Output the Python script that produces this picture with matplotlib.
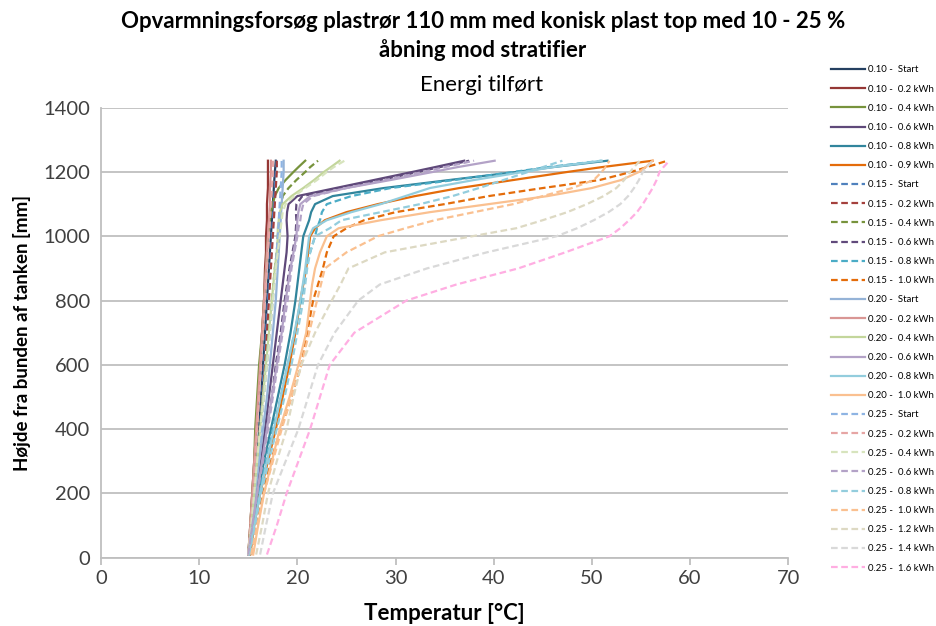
import matplotlib
matplotlib.use("Agg")
import matplotlib.pyplot as plt

plt.rcParams['font.family'] = ['Lato', 'DejaVu Sans']

# height above tank bottom [mm]
hoejde = [10, 100, 200, 300, 400, 500, 600, 700, 800, 850, 900, 950, 1000,
          1025, 1050, 1075, 1100, 1125, 1150, 1175, 1200, 1215, 1235]

# temperatures [C] per test (opening - energy)
s10_start = [15.0, 15.3, 15.6, 15.9, 16.1, 16.3, 16.5, 16.7, 16.9, 17.0, 17.1, 17.2, 17.3, 17.35, 17.4, 17.45, 17.5, 17.55, 17.6, 17.65, 17.7, 17.75, 17.8]
s10_02 = [15.0, 15.2, 15.4, 15.6, 15.8, 16.0, 16.2, 16.4, 16.6, 16.65, 16.7, 16.8, 16.8, 16.85, 16.9, 16.9, 16.9, 16.95, 17.0, 17.0, 17.0, 17.0, 17.0]
s10_04 = [15.0, 15.2, 15.4, 15.6, 15.7, 15.9, 16.1, 16.4, 16.6, 16.7, 16.8, 16.9, 17.0, 17.1, 17.2, 17.3, 17.5, 17.7, 18.1, 18.8, 19.6, 20.1, 20.8]
s10_06 = [15.0, 15.4, 15.8, 16.3, 16.7, 17.1, 17.5, 17.9, 18.3, 18.5, 18.7, 18.9, 19.0, 18.95, 18.9, 18.95, 19.1, 20.0, 23.9, 27.8, 31.7, 34.0, 37.0]
s10_08 = [15.1, 15.5, 16.0, 16.6, 17.3, 18.0, 18.7, 19.3, 19.8, 20.0, 20.2, 20.4, 20.6, 20.9, 21.2, 21.4, 21.8, 23.6, 28.8, 35.5, 42.3, 46.0, 51.6]
s10_09 = [15.2, 15.6, 16.2, 17.0, 17.8, 18.5, 19.2, 19.8, 20.3, 20.6, 20.9, 21.1, 21.3, 21.8, 22.8, 25.0, 28.2, 32.0, 36.5, 42.0, 47.5, 51.0, 56.2]

s15_start = [15.0, 15.3, 15.6, 15.9, 16.2, 16.4, 16.6, 16.8, 17.0, 17.1, 17.2, 17.3, 17.4, 17.45, 17.5, 17.55, 17.6, 17.65, 17.7, 17.75, 17.8, 17.85, 17.9]
s15_02 = [15.0, 15.3, 15.6, 15.9, 16.2, 16.5, 16.7, 16.9, 17.1, 17.2, 17.3, 17.4, 17.5, 17.55, 17.6, 17.65, 17.7, 17.75, 17.8, 17.85, 17.9, 17.9, 17.9]
s15_04 = [15.0, 15.3, 15.6, 15.9, 16.2, 16.5, 16.8, 17.1, 17.4, 17.55, 17.7, 17.9, 18.0, 18.1, 18.2, 18.3, 18.4, 18.5, 19.1, 19.9, 20.8, 21.3, 22.1]
s15_06 = [15.0, 15.4, 15.9, 16.4, 16.9, 17.4, 17.8, 18.3, 18.7, 18.95, 19.2, 19.5, 19.8, 19.85, 19.9, 19.85, 19.9, 20.5, 24.5, 28.5, 32.3, 34.5, 37.5]
s15_08 = [15.1, 15.5, 16.1, 16.8, 17.5, 18.3, 19.0, 19.7, 20.4, 20.65, 20.9, 21.3, 21.8, 22.0, 22.3, 22.5, 23.0, 25.5, 29.5, 36.0, 42.0, 45.5, 51.0]
s15_10 = [15.3, 15.8, 16.4, 17.3, 18.3, 19.4, 20.4, 21.0, 21.6, 22.1, 22.6, 23.0, 23.7, 25.0, 26.8, 30.0, 35.0, 39.5, 45.0, 50.8, 54.0, 55.6, 57.7]

s20_start = [15.0, 15.3, 15.7, 16.1, 16.5, 16.9, 17.2, 17.5, 17.8, 17.9, 18.0, 18.1, 18.2, 18.25, 18.3, 18.35, 18.4, 18.45, 18.5, 18.55, 18.6, 18.6, 18.6]
s20_02 = [15.0, 15.2, 15.4, 15.6, 15.8, 16.0, 16.2, 16.4, 16.6, 16.7, 16.8, 16.9, 17.0, 17.05, 17.1, 17.15, 17.2, 17.2, 17.2, 17.25, 17.3, 17.3, 17.3]
s20_04 = [15.0, 15.3, 15.6, 15.9, 16.2, 16.5, 16.8, 17.1, 17.4, 17.55, 17.7, 17.9, 18.0, 18.0, 18.1, 18.2, 18.5, 19.4, 20.6, 21.7, 22.7, 23.4, 24.3]
s20_06 = [15.0, 15.4, 15.9, 16.4, 16.9, 17.4, 17.9, 18.4, 18.8, 19.05, 19.3, 19.6, 19.9, 19.95, 20.0, 20.1, 20.3, 21.3, 25.0, 29.5, 33.8, 36.3, 40.1]
s20_08 = [15.1, 15.6, 16.2, 16.9, 17.6, 18.3, 19.0, 19.7, 20.3, 20.55, 20.8, 21.0, 21.2, 21.6, 23.0, 25.5, 28.5, 31.0, 33.5, 38.0, 43.0, 46.0, 51.0]
s20_10 = [15.5, 16.0, 16.6, 17.4, 18.2, 19.2, 20.1, 20.9, 21.3, 21.5, 21.8, 22.3, 23.0, 24.2, 28.5, 33.5, 39.5, 45.5, 50.0, 53.0, 54.8, 55.5, 56.2]

s25_start = [15.0, 15.3, 15.6, 16.0, 16.3, 16.6, 16.9, 17.2, 17.5, 17.65, 17.8, 17.9, 18.0, 18.05, 18.1, 18.15, 18.2, 18.25, 18.3, 18.35, 18.4, 18.4, 18.4]
s25_02 = [15.0, 15.2, 15.5, 15.7, 15.9, 16.1, 16.3, 16.5, 16.7, 16.8, 16.9, 17.0, 17.1, 17.15, 17.2, 17.25, 17.3, 17.35, 17.4, 17.45, 17.5, 17.5, 17.5]
s25_04 = [15.0, 15.3, 15.6, 15.9, 16.2, 16.6, 16.9, 17.2, 17.5, 17.65, 17.8, 18.0, 18.2, 18.3, 18.4, 18.5, 18.8, 19.7, 20.8, 22.0, 23.0, 23.7, 24.8]
s25_06 = [15.0, 15.4, 15.9, 16.5, 17.0, 17.5, 18.0, 18.5, 19.0, 19.2, 19.4, 19.7, 20.0, 20.1, 20.3, 20.4, 20.6, 21.6, 25.0, 29.0, 32.8, 35.0, 38.0]
s25_08 = [15.2, 15.7, 16.3, 17.1, 17.9, 18.7, 19.4, 20.0, 20.6, 20.8, 21.0, 21.3, 21.8, 23.3, 24.5, 28.5, 32.5, 35.8, 38.5, 41.0, 43.5, 45.0, 47.0]
s25_10 = [15.3, 15.9, 16.6, 17.5, 18.4, 19.4, 20.4, 21.2, 22.0, 22.4, 22.8, 25.0, 28.2, 31.0, 34.0, 38.0, 42.0, 45.0, 48.0, 50.2, 51.0, 51.4, 51.8]
s25_12 = [15.8, 16.4, 17.0, 17.9, 18.9, 19.6, 20.4, 21.8, 23.5, 24.4, 25.2, 28.9, 37.8, 42.3, 45.0, 47.5, 49.5, 51.2, 52.5, 53.3, 53.9, 54.3, 54.9]
s25_14 = [16.2, 16.8, 17.5, 18.8, 20.1, 21.1, 22.1, 23.8, 26.2, 28.4, 33.2, 39.3, 46.4, 48.5, 50.2, 51.7, 52.9, 53.7, 54.3, 54.8, 55.2, 55.6, 56.2]
s25_16 = [16.9, 17.9, 18.9, 20.1, 21.3, 22.3, 23.3, 25.8, 31.1, 36.2, 42.5, 47.3, 51.8, 52.9, 53.8, 54.6, 55.2, 55.7, 56.2, 56.6, 56.9, 57.3, 57.9]

dash = (0, (3, 1.6))
serier = [
    ("0.10 -  Start", s10_start, '#254061', '-'),
    ("0.10 -  0.2 kWh", s10_02, '#953735', '-'),
    ("0.10 -  0.4 kWh", s10_04, '#77933C', '-'),
    ("0.10 -  0.6 kWh", s10_06, '#5F497A', '-'),
    ("0.10 -  0.8 kWh", s10_08, '#31859C', '-'),
    ("0.10 -  0.9 kWh", s10_09, '#E46C0A', '-'),
    ("0.15 -  Start", s15_start, '#4F81BD', dash),
    ("0.15 -  0.2 kWh", s15_02, '#A4403D', dash),
    ("0.15 -  0.4 kWh", s15_04, '#77933C', dash),
    ("0.15 -  0.6 kWh", s15_06, '#604A7B', dash),
    ("0.15 -  0.8 kWh", s15_08, '#4BACC6', dash),
    ("0.15 -  1.0 kWh", s15_10, '#E46C0A', dash),
    ("0.20 -  Start", s20_start, '#95B3D7', '-'),
    ("0.20 -  0.2 kWh", s20_02, '#D99694', '-'),
    ("0.20 -  0.4 kWh", s20_04, '#C3D69B', '-'),
    ("0.20 -  0.6 kWh", s20_06, '#B3A2C7', '-'),
    ("0.20 -  0.8 kWh", s20_08, '#93CDDD', '-'),
    ("0.20 -  1.0 kWh", s20_10, '#FAC090', '-'),
    ("0.25 -  Start", s25_start, '#8EB4E3', dash),
    ("0.25 -  0.2 kWh", s25_02, '#E6A5A4', dash),
    ("0.25 -  0.4 kWh", s25_04, '#D7E4BD', dash),
    ("0.25 -  0.6 kWh", s25_06, '#B3A2C7', dash),
    ("0.25 -  0.8 kWh", s25_08, '#93CDDD', dash),
    ("0.25 -  1.0 kWh", s25_10, '#FAC090', dash),
    ("0.25 -  1.2 kWh", s25_12, '#DDD9C3', dash),
    ("0.25 -  1.4 kWh", s25_14, '#D9D9D9', dash),
    ("0.25 -  1.6 kWh", s25_16, '#FFAEE2', dash),
]

fig = plt.figure(figsize=(9.36, 6.26), dpi=100)
ax = fig.add_axes([0.108, 0.109, 0.734, 0.719])

for navn, temp, farve, stil in serier:
    ax.plot(temp, hoejde, color=farve, linestyle=stil, linewidth=1.6, label=navn)

ax.set_xlim(0, 70)
ax.set_ylim(0, 1400)
ax.set_xticks(range(0, 71, 10))
ax.set_yticks(range(0, 1401, 200))
ax.grid(axis='y', color='#BFBFBF', linewidth=1.3)
ax.set_axisbelow(True)
for side in ['top', 'right']:
    ax.spines[side].set_visible(False)
ax.spines['bottom'].set_color('#BFBFBF')
ax.spines['left'].set_color('#BFBFBF')
ax.spines['bottom'].set_linewidth(1.3)
ax.spines['left'].set_linewidth(1.3)
ax.tick_params(axis='x', colors='#BFBFBF', labelcolor='#404040', labelsize=14.5, length=5, width=1.3)
ax.tick_params(axis='y', length=0, labelcolor='#404040', labelsize=14.5, pad=8)

ax.set_xlabel("Temperatur [°C]", fontsize=16, fontweight='bold', labelpad=12)
ax.set_ylabel("Højde fra bunden af tanken [mm]", fontsize=13.5, fontweight='bold', labelpad=9)

fig.text(0.516, 0.965, "Opvarmningsforsøg plastrør 110 mm med konisk plast top med 10 - 25 %",
         ha='center', va='center', fontsize=16, fontweight='bold')
fig.text(0.516, 0.92, "åbning mod stratifier", ha='center', va='center', fontsize=16, fontweight='bold')
fig.text(0.515, 0.864, "Energi tilført", ha='center', va='center', fontsize=16)

fig.legend(loc='upper left', bbox_to_anchor=(0.884, 0.9015), frameon=False, fontsize=6.9,
           handlelength=3.5, labelspacing=1.06, handletextpad=0.3, borderaxespad=0)

fig.savefig("out.png", dpi=100)
